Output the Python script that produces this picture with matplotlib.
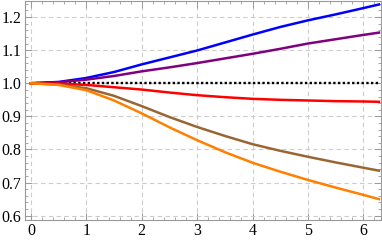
import matplotlib
matplotlib.use("Agg")
import matplotlib.pyplot as plt
from matplotlib.ticker import MultipleLocator
import math

# sample points
x = [0, 0.5, 1, 1.5, 2, 2.5, 3, 3.5, 4, 4.5, 5, 5.5, 6, 2 * math.pi]
blue = [1.0, 1.004, 1.016, 1.034, 1.057, 1.078, 1.099, 1.123, 1.147, 1.170, 1.190, 1.208, 1.227, 1.238]
purple = [1.0, 1.003, 1.011, 1.022, 1.036, 1.048, 1.061, 1.075, 1.089, 1.104, 1.120, 1.133, 1.146, 1.153]
red = [1.0, 0.999, 0.995, 0.988, 0.981, 0.972, 0.964, 0.958, 0.953, 0.950, 0.948, 0.946, 0.945, 0.944]
brown = [1.0, 0.996, 0.985, 0.962, 0.931, 0.898, 0.868, 0.841, 0.816, 0.796, 0.778, 0.761, 0.745, 0.736]
orange = [1.0, 0.995, 0.979, 0.948, 0.909, 0.867, 0.828, 0.792, 0.760, 0.733, 0.708, 0.685, 0.663, 0.650]
baseline = [1.0] * len(x)

plt.rcParams['font.family'] = 'Liberation Serif'
fig = plt.figure(figsize=(3.82, 2.40), dpi=100)
ax = fig.add_axes([25 / 382, 20 / 240, 356 / 382, 219.5 / 240])

ax.plot(x, baseline, color='black', lw=1.7, ls=(0, (1, 1)))
ax.plot(x, blue, color=(0, 0, 1), lw=1.8)
ax.plot(x, purple, color=(0.5, 0, 0.5), lw=1.8)
ax.plot(x, red, color=(1, 0, 0), lw=1.8)
ax.plot(x, brown, color=(0.6, 0.4, 0.2), lw=1.8)
ax.plot(x, orange, color=(1, 0.5, 0), lw=1.8)

ax.set_xlim(-0.108, 6.32)
ax.set_ylim(0.587, 1.25)
ax.xaxis.set_major_locator(MultipleLocator(1))
ax.xaxis.set_minor_locator(MultipleLocator(0.2))
ax.yaxis.set_minor_locator(MultipleLocator(0.02))
ax.set_yticks([0.6, 0.7, 0.8, 0.9, 1.0, 1.1, 1.2])
ax.set_yticklabels(['0.6', '0.7', '0.8', '0.9', '1.0', '1.1', '1.2'])

ax.grid(True, which='major', color='#cccccc', ls=(0, (4, 3)), lw=0.8)
ax.tick_params(which='both', direction='in', top=True, right=True,
               color='#999999', labelsize=11.5, labelcolor='black', pad=2.5)
ax.tick_params(which='major', length=5, width=0.7)
ax.tick_params(which='minor', length=2.5, width=0.6)
for s in ax.spines.values():
    s.set_color('#999999')
    s.set_linewidth(0.8)

fig.savefig('out.png', dpi=100)
